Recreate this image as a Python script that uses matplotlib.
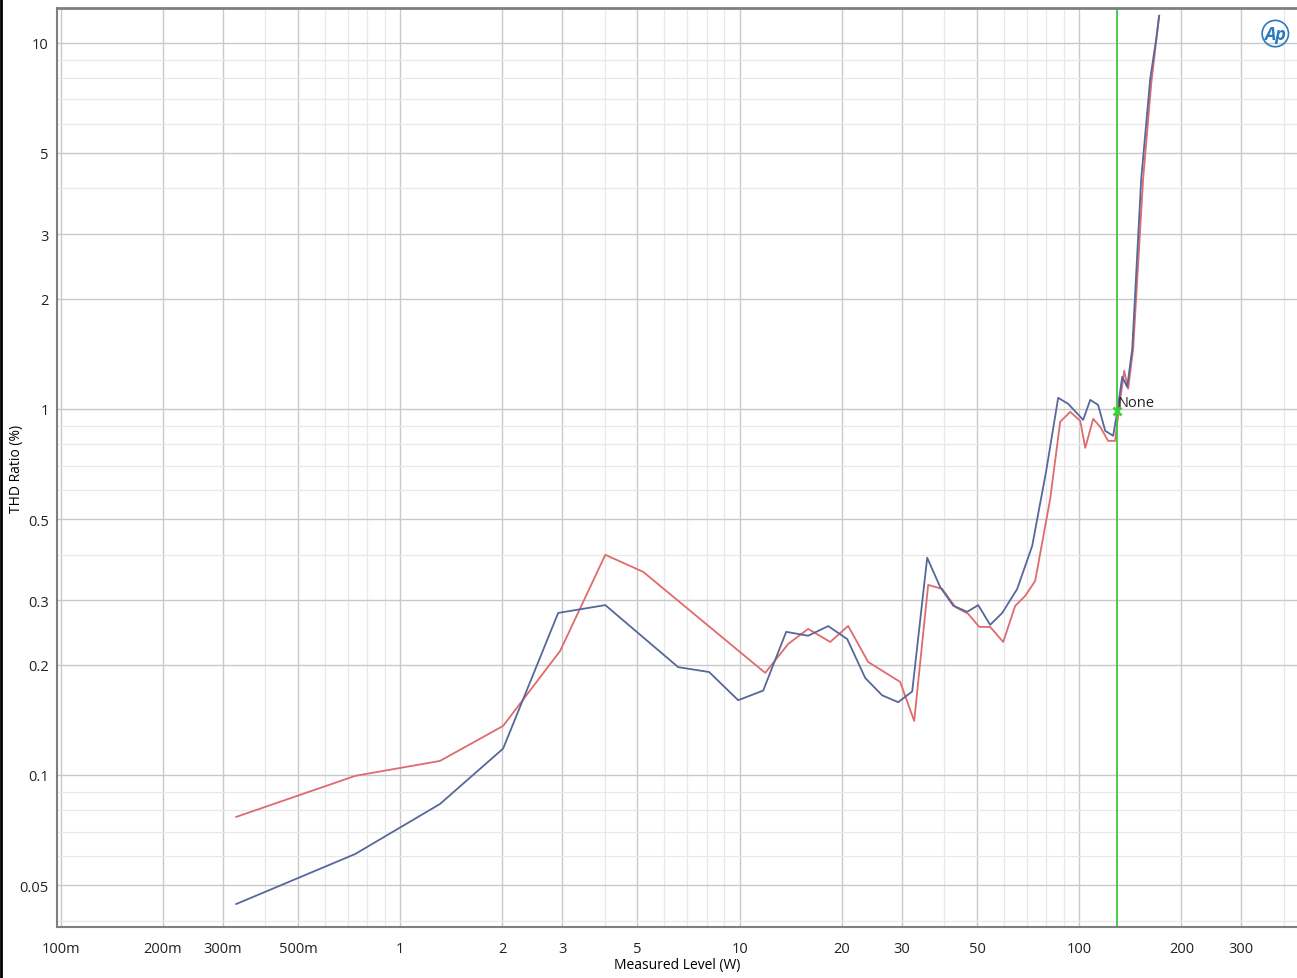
import matplotlib
matplotlib.use("Agg")
import matplotlib.pyplot as plt
from matplotlib.ticker import FixedLocator, NullFormatter, LogLocator
from matplotlib.lines import Line2D

# measured level (W) and THD ratio (%)
blue_x = [0.329, 0.737, 1.31, 2.01, 2.92, 4.02, 6.59, 8.13, 9.90, 11.73, 13.71,
          15.91, 18.23, 20.74, 23.43, 26.28, 29.30, 32.22, 35.67, 38.96, 42.56,
          46.79, 50.42, 54.68, 59.33, 65.66, 72.70, 79.96, 86.73, 92.81, 102.7,
          107.8, 113.7, 119.3, 125.9, 129.4, 133.9, 138.5, 143.3, 152.3, 161.9,
          168.6, 172.0]
blue_y = [0.0444, 0.0608, 0.0833, 0.118, 0.277, 0.291, 0.197, 0.191, 0.160,
          0.170, 0.246, 0.240, 0.255, 0.235, 0.184, 0.165, 0.158, 0.169, 0.392,
          0.326, 0.290, 0.279, 0.291, 0.257, 0.277, 0.322, 0.422, 0.677, 1.072,
          1.032, 0.933, 1.058, 1.025, 0.871, 0.844, 0.981, 1.223, 1.148, 1.458,
          4.25, 7.97, 10.25, 11.85]

red_x = [0.329, 0.737, 1.31, 2.01, 2.96, 4.02, 5.20, 11.89, 13.90, 15.91, 18.48,
         20.87, 23.90, 29.70, 32.66, 35.91, 39.49, 43.14, 47.11, 50.76, 54.68,
         59.73, 64.78, 69.32, 74.19, 82.15, 87.90, 94.08, 100.7, 104.2, 110.0,
         115.3, 121.7, 127.6, 131.2, 135.7, 139.4, 144.2, 154.3, 163.0, 172.0]
red_y = [0.0768, 0.0994, 0.1092, 0.1361, 0.2182, 0.3993, 0.3586, 0.1900, 0.2280,
         0.2505, 0.2308, 0.2553, 0.2035, 0.1795, 0.1404, 0.3304, 0.3223, 0.2877,
         0.2754, 0.2537, 0.2537, 0.2308, 0.2895, 0.3083, 0.3388, 0.5676, 0.9214,
         0.9813, 0.9273, 0.7824, 0.9390, 0.8929, 0.8177, 0.8177, 1.0127, 1.270,
         1.134, 1.458, 4.25, 7.73, 11.85]

cursor_x = 129.4
cursor_y = 0.985

x_ticks = [0.1, 0.2, 0.3, 0.5, 1, 2, 3, 5, 10, 20, 30, 50, 100, 200, 300]
x_labels = ["100m", "200m", "300m", "500m", "1", "2", "3", "5", "10", "20", "30",
            "50", "100", "200", "300"]
y_ticks = [0.05, 0.1, 0.2, 0.3, 0.5, 1, 2, 3, 5, 10]
y_labels = ["0.05", "0.1", "0.2", "0.3", "0.5", "1", "2", "3", "5", "10"]

plt.rcParams['font.family'] = ['Open Sans', 'DejaVu Sans']

fig = plt.figure(figsize=(12.97, 9.79), dpi=100)
ax = fig.add_axes([0.044, 0.052, 0.9565, 0.939])

ax.set_xscale("log")
ax.set_yscale("log")
ax.set_xlim(0.0976, 440)
ax.set_ylim(0.0384, 12.46)

# grid: darker at labelled ticks, lighter minor lines
ax.xaxis.set_major_locator(FixedLocator(x_ticks))
ax.yaxis.set_major_locator(FixedLocator(y_ticks))
ax.xaxis.set_minor_locator(LogLocator(base=10, subs=range(1, 10), numticks=20))
ax.yaxis.set_minor_locator(LogLocator(base=10, subs=range(1, 10), numticks=20))
ax.xaxis.set_minor_formatter(NullFormatter())
ax.yaxis.set_minor_formatter(NullFormatter())
ax.set_xticklabels(x_labels)
ax.set_yticklabels(y_labels)
ax.grid(which="major", color="#c9c9c9", lw=1.0)
ax.grid(which="minor", color="#e8e8e8", lw=0.9)
ax.set_axisbelow(True)
ax.tick_params(which="both", length=0, labelsize=10.5, colors="#222222")
ax.tick_params(axis="x", pad=10)
ax.tick_params(axis="y", pad=6)

for side in ["left", "bottom", "top"]:
    ax.spines[side].set_color("#7f7f7f")
ax.spines["top"].set_linewidth(2.0)
ax.spines["left"].set_linewidth(1.5)
ax.spines["bottom"].set_linewidth(1.5)
ax.spines["right"].set_visible(False)

ax.plot(red_x, red_y, color="#e06a6e", lw=1.3)
ax.plot(blue_x, blue_y, color="#56689a", lw=1.3)

ax.axvline(cursor_x, color="#3cc83c", lw=1.3)
ax.plot([cursor_x], [cursor_y], marker="x", color="#3cd23c", ms=6, mew=2)
ax.text(cursor_x * 1.005, cursor_y * 1.01, "None", fontsize=10.5, color="#222222",
        ha="left", va="bottom")

ax.set_xlabel("Measured Level (W)", fontsize=10)
ax.set_ylabel("THD Ratio (%)", fontsize=10)
ax.xaxis.set_label_coords(0.5, -0.032)
ax.yaxis.set_label_coords(-0.027, 0.5)

# Ap logo in the top right corner
ax.text(0.982, 0.972, "Ap", transform=ax.transAxes, fontsize=13, color="#2a7ac0",
        fontweight="bold", fontstyle="italic", ha="center", va="center",
        bbox=dict(boxstyle="circle,pad=0.12", fc="none", ec="#2a7ac0", lw=1.2))

# thin dark border on the left of the image
fig.add_artist(Line2D([0.001, 0.001], [0, 1], color="black", lw=2,
                      transform=fig.transFigure))

fig.savefig("out.png", dpi=100)
